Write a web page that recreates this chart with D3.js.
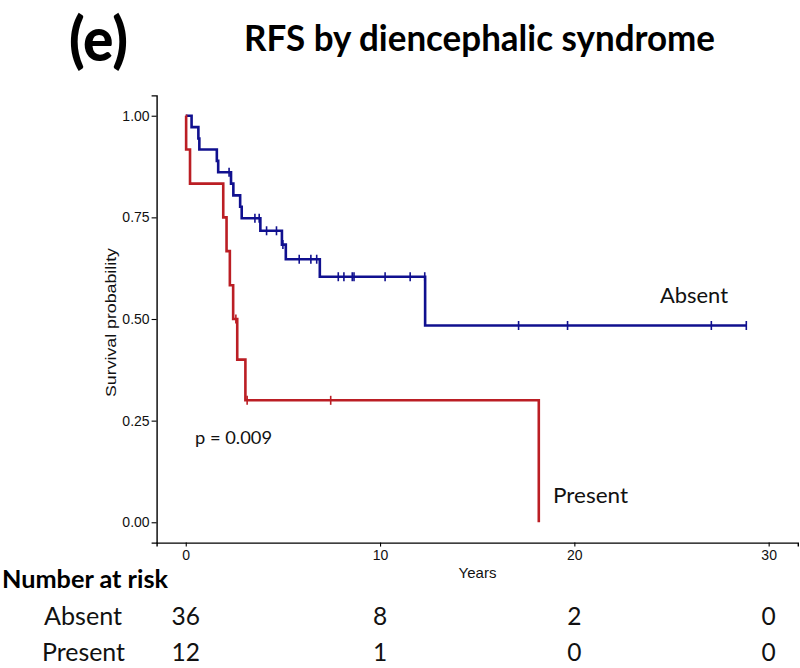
<!DOCTYPE html>
<html>
<head>
<meta charset="utf-8">
<script src="https://cdn.jsdelivr.net/npm/d3@7"></script>
<style>
  html, body { margin: 0; padding: 0; background: #fff; }
  svg { display: block; }
</style>
</head>
<body>
<svg id="chart" width="800" height="668"></svg>
<script>
// ---------- data ----------
const groups = ["Absent", "Present"];
const groupColors = ["#10108f", "#bb1e24"];

// Absent (no diencephalic syndrome): step times and survival after each step
const absentTimes = [0, 0.30, 0.65, 0.70, 1.60, 1.67, 2.33, 2.45, 2.80, 2.88, 3.84, 4.95, 5.15, 6.90, 12.32];
const absentSurv  = [1.000, 0.972, 0.944, 0.917, 0.889, 0.861, 0.833, 0.804, 0.776, 0.748, 0.717, 0.683, 0.647, 0.604, 0.484];
const absentEnd = 28.85;
const absentCensor = [2.23, 3.56, 3.78, 4.16, 4.67, 5.00, 5.84, 6.44, 6.74, 7.85, 8.14, 8.57, 8.66, 10.26, 11.55, 12.30, 17.13, 19.65, 27.05, 28.85];

// Present (diencephalic syndrome)
const presentTimes = [0, 0.02, 0.22, 1.93, 2.10, 2.27, 2.44, 2.65, 3.07, 18.17];
const presentSurv  = [1.000, 0.917, 0.833, 0.750, 0.667, 0.583, 0.500, 0.400, 0.300, 0.000];
const presentEnd = 18.17;
const presentCensor = [2.58, 3.16, 7.46];

const xTicks = [0, 10, 20, 30];
const yTicks = [0, 0.25, 0.50, 0.75, 1.00];

const riskTimes = [0, 10, 20, 30];
const absentRisk = [36, 8, 2, 0];
const presentRisk = [12, 1, 0, 0];

const titleText = "RFS by diencephalic syndrome";
const panelLabel = "(e)";
const pValueText = "p = 0.009";

// ---------- drawing ----------
const svg = d3.select("#chart");
const x = d3.scaleLinear().domain([-1.5, 31.5]).range([156.6, 797.8]);
const y = d3.scaleLinear().domain([-0.05, 1.05]).range([542.6, 95.4]);

const axisFont = "'Liberation Sans', Arial, Helvetica, sans-serif";
const labelFont = "Lato, 'Open Sans', sans-serif";

// axes
const gx = svg.append("g").attr("transform", `translate(0,${y(-0.05)})`)
  .call(d3.axisBottom(x).tickValues(xTicks).tickFormat(d3.format("d")).tickSizeOuter(0).tickSize(4).tickPadding(3));
const gy = svg.append("g").attr("transform", `translate(${x(-1.5)},0)`)
  .call(d3.axisLeft(y).tickValues(yTicks).tickFormat(d3.format(".2f")).tickSizeOuter(0).tickSize(5).tickPadding(2));
[gx, gy].forEach(g => {
  g.select(".domain").attr("stroke", "#000").attr("stroke-width", 1.4);
  g.selectAll(".tick line").attr("stroke", "#000").attr("stroke-width", 1.1);
  g.selectAll(".tick text").attr("fill", "#111").style("font-family", axisFont).style("font-size", "14px");
});

// axis titles
svg.append("text").attr("x", 477.5).attr("y", 577.7).attr("text-anchor", "middle")
  .style("font-family", axisFont).style("font-size", "15px").attr("fill", "#111").text("Years");
svg.append("text").attr("transform", "translate(115.7,322.5) rotate(-90)").attr("text-anchor", "middle")
  .style("font-family", axisFont).style("font-size", "15px").attr("fill", "#111")
  .attr("textLength", 149).attr("lengthAdjust", "spacingAndGlyphs").text("Survival probability");

// curves
function stepPoints(times, surv, end) {
  const pts = times.map((t, i) => [t, surv[i]]);
  if (end > times[times.length - 1]) pts.push([end, surv[surv.length - 1]]);
  return pts;
}
function survAt(times, surv, t) {
  let s = surv[0];
  for (let i = 0; i < times.length; i++) if (times[i] <= t) s = surv[i];
  return s;
}
const line = d3.line().x(d => x(d[0])).y(d => y(d[1])).curve(d3.curveStepAfter);

const series = [
  {times: absentTimes, surv: absentSurv, end: absentEnd, censor: absentCensor, color: groupColors[0]},
  {times: presentTimes, surv: presentSurv, end: presentEnd, censor: presentCensor, color: groupColors[1]}
];
series.forEach(s => {
  svg.append("path").datum(stepPoints(s.times, s.surv, s.end))
    .attr("fill", "none").attr("stroke", s.color).attr("stroke-width", 2.6)
    .attr("stroke-linejoin", "miter").attr("d", line);
  svg.append("g").selectAll("line").data(s.censor).join("line")
    .attr("x1", d => x(d)).attr("x2", d => x(d))
    .attr("y1", d => y(survAt(s.times, s.surv, d)) - 4.5)
    .attr("y2", d => y(survAt(s.times, s.surv, d)) + 4.5)
    .attr("stroke", s.color).attr("stroke-width", 1.6);
});

// in-plot labels
svg.append("text").attr("x", 660).attr("y", 303).style("font-family", labelFont).style("font-size", "21.5px")
  .attr("textLength", 68).attr("lengthAdjust", "spacingAndGlyphs").attr("fill", "#111").text(groups[0]);
svg.append("text").attr("x", 553).attr("y", 503).style("font-family", labelFont).style("font-size", "21.5px")
  .attr("textLength", 75).attr("lengthAdjust", "spacingAndGlyphs").attr("fill", "#111").text(groups[1]);
svg.append("text").attr("x", 195).attr("y", 444).style("font-family", labelFont).style("font-size", "17.5px")
  .attr("textLength", 77).attr("lengthAdjust", "spacingAndGlyphs").attr("fill", "#111").text(pValueText);

// title and panel label
svg.append("text").attr("x", 244).attr("y", 51).style("font-family", labelFont).style("font-weight", "bold")
  .style("font-size", "35.5px").attr("textLength", 471).attr("lengthAdjust", "spacingAndGlyphs").attr("fill", "#000").text(titleText);
svg.append("text").attr("x", 69).attr("y", 61).style("font-family", labelFont).style("font-weight", "900")
  .style("font-size", "61px").attr("textLength", 59).attr("lengthAdjust", "spacingAndGlyphs").attr("fill", "#000").text(panelLabel);

// risk table
svg.append("text").attr("x", 2).attr("y", 588).style("font-family", labelFont).style("font-weight", "bold")
  .style("font-size", "24.5px").attr("textLength", 166).attr("lengthAdjust", "spacingAndGlyphs").attr("fill", "#000").text("Number at risk");
const rowY = [625, 661];
const rowLabelX = [[44, 78], [42, 83]];
[absentRisk, presentRisk].forEach((vals, r) => {
  svg.append("text").attr("x", rowLabelX[r][0]).attr("y", rowY[r]).style("font-family", labelFont)
    .style("font-size", "24.5px").attr("textLength", rowLabelX[r][1]).attr("lengthAdjust", "spacingAndGlyphs")
    .attr("fill", "#111").text(groups[r]);
  svg.append("g").selectAll("text").data(vals).join("text")
    .attr("x", (d, i) => x(riskTimes[i])).attr("y", rowY[r]).attr("text-anchor", "middle")
    .style("font-family", labelFont).style("font-size", "24.5px").attr("fill", "#111").text(d => d);
});
</script>
</body>
</html>
